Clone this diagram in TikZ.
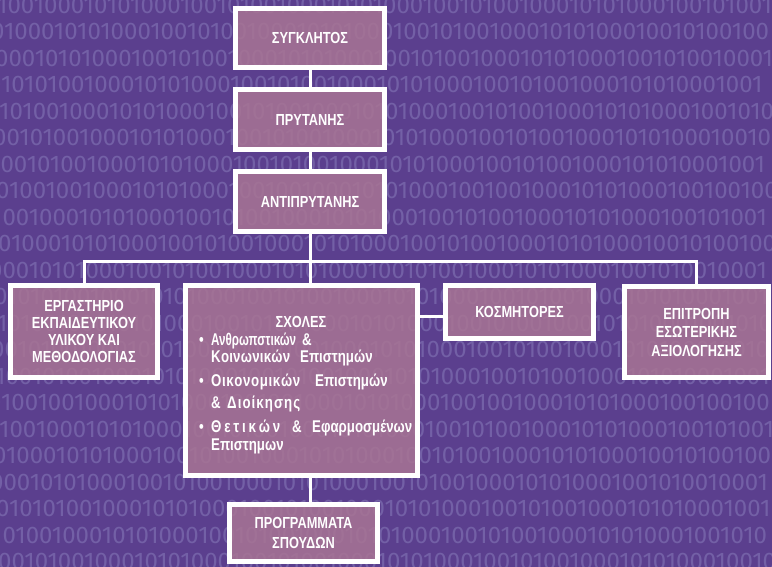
\documentclass[tikz,border=0pt]{standalone}
\usepackage{fontspec}
\usepackage{graphicx}
\setmainfont{Liberation Sans}
\newfontfamily\bitfont{Fira Sans}
\newfontfamily\boxfont{Liberation Sans}[FakeStretch=0.8]
\newfontfamily\listfont{Liberation Sans}[FakeStretch=0.78]
\usetikzlibrary{calc}
\definecolor{bgpurple}{HTML}{5B3F8E}
\definecolor{bitcol}{HTML}{7360A6}
\definecolor{boxfill}{HTML}{A97594}
% spread the letters of a word over a given width
\def\sprinkle#1#2\relax{#1\sprB#2\relax}
\def\sprB#1{\ifx#1\relax\else\hfil#1\expandafter\sprB\fi}
\newcommand\fw[2]{\makebox[#1pt][s]{\sprinkle#2\relax}}
\begin{document}
\begin{tikzpicture}[x=1pt,y=-1pt,
  box/.style={draw=white, line width=5pt, fill=boxfill, fill opacity=0.84,
    text opacity=1, text=white, font=\boxfont\bfseries\fontsize{16}{18}\selectfont,
    align=center, inner sep=0pt},
  boxtext/.style={text=white, font=\listfont\bfseries\fontsize{17}{18}\selectfont, inner sep=0pt},
  bits/.style={anchor=west, text=bitcol, font=\bitfont\fontsize{24}{24}\selectfont, inner sep=0pt},
  link/.style={draw=white, line width=3pt}]
\fill[bgpurple] (0,0) rectangle (772,567);
\useasboundingbox (0,0) rectangle (772,567);
\begin{scope}
\clip (0,0) rectangle (772,567);
\foreach \s/\dx [count=\i from 0] in {
 1001000101010001001010010001010100010010100100010101000100101001/-3,
 0100010101000100101001000101010001001010010001010100010010100100/-9,
 0001010100010010100100010101000100101001000101010001001010010001/-5,
 0101010010001010100010010100100010101000100101001000101010001001/-12,
 1010010001010100010010100100010101000100101001000101010001001010/-1,
 0010100100010101000100101001000101010001001010010001010100010010/-7,
 1001010010001010100010010100100010101000100101001000101010001001/-10,
 0100100100010101000100100100010101000100100100010101000100100100/-4,
 1001000101010001001010010001010100010010100100010101000100101001/-8,
 0100010101000100101001000101010001001010010001010100010010100100/-2,
 0001010100010010100100010101000100101001000101010001001010010001/-11,
 0101010010001010100010010100100010101000100101001000101010001001/-6,
 1010010001010100010010100100010101000100101001000101010001001010/-3,
 0010100100010101000100101001000101010001001010010001010100010010/-9,
 1001010010001010100010010100100010101000100101001000101010001001/-5,
 0100100100010101000100100100010101000100100100010101000100100100/-12,
 1001000101010001001010010001010100010010100100010101000100101001/-1,
 0100010101000100101001000101010001001010010001010100010010100100/-7,
 0001010100010010100100010101000100101001000101010001001010010001/-10,
 0101010010001010100010010100100010101000100101001000101010001001/-4,
 1010010001010100010010100100010101000100101001000101010001001010/-8,
 0010100100010101000100101001000101010001001010010001010100010010/-2}
 { \node[bits] (bits\i) at (\dx, {5+26.5*\i}) {\s}; }
\end{scope}

% boxes
\node[box, minimum width=149pt, minimum height=59pt] (syg) at (310,38) {ΣΥΓΚΛΗΤΟΣ};
\node[box, minimum width=149pt, minimum height=60pt] (pry) at (310,119.5) {ΠΡΥΤΑΝΗΣ};
\node[box, minimum width=149pt, minimum height=60pt] (anti) at (310,201.5) {ΑΝΤΙΠΡΥΤΑΝΗΣ};
\node[box, minimum width=147pt, minimum height=92pt, font=\boxfont\bfseries\fontsize{16}{17.3}\selectfont] (erg) at (84,331.5)
  {ΕΡΓΑΣΤΗΡΙΟ\\ΕΚΠΑΙΔΕΥΤΙΚΟΥ\\ΥΛΙΚΟΥ ΚΑΙ\\ΜΕΘΟΔΟΛΟΓΙΑΣ};
\node[box, minimum width=232pt, minimum height=190pt] (sch) at (301.5,380.5) {};
\node[box, minimum width=148pt, minimum height=53pt] (kos) at (519.5,312) {ΚΟΣΜΗΤΟΡΕΣ};
\node[box, minimum width=144pt, minimum height=91pt, font=\boxfont\bfseries\fontsize{16}{18.5}\selectfont] (epi) at (696.5,332)
  {ΕΠΙΤΡΟΠΗ\\ΕΣΩΤΕΡΙΚΗΣ\\ΑΞΙΟΛΟΓΗΣΗΣ};
\node[box, minimum width=148pt, minimum height=57pt, font=\boxfont\bfseries\fontsize{16}{19.5}\selectfont] (prog) at (303.5,533)
  {ΠΡΟΓΡΑΜΜΑΤΑ\\ΣΠΟΥΔΩΝ};

% connectors
\coordinate (bus) at (310,262);
\draw[link] (syg) -- (pry);
\draw[link] (pry) -- (anti);
\draw[link] (anti.south) -- (anti.south |- sch.north);
\draw[link] (erg.north) |- (bus) -| (epi.north);
\coordinate (kj) at ($(kos.west)+(0,4)$);
\draw[link] (kj) -- (kj -| sch.east);
\draw[link] (anti.south |- sch.south) -- (anti.south |- prog.north);

% school text
\node[boxtext, font=\boxfont\bfseries\fontsize{16}{18}\selectfont, anchor=base] (t0) at (301,327) {ΣΧΟΛΕΣ};
\node[boxtext, anchor=base west] (t1) at (199,345)
  {\makebox[12pt][l]{\textbullet}\resizebox{85pt}{\height}{Ανθρωπστικών}\hspace{6pt}\&};
\node[boxtext, anchor=base west] (t2) at (211,362)
  {\fw{79}{Κοινωνικών}\hspace{10pt}\fw{65}{Επιστημών}};
\node[boxtext, anchor=base west] (t3) at (199,386)
  {\makebox[12pt][l]{\textbullet}\fw{89}{Οικονομικών}\hspace{15pt}\fw{68}{Επιστημών}};
\node[boxtext, anchor=base west] (t4) at (211,408)
  {\makebox[16pt][l]{\&}\fw{73}{Διοίκησης}};
\node[boxtext, anchor=base west] (t5) at (199,432)
  {\makebox[12pt][l]{\textbullet}\fw{69}{Θετικών}\hspace{12pt}\makebox[20pt][l]{\&}\fw{91}{Εφαρμοσμένων}};
\node[boxtext, anchor=base west] (t6) at (211,450)
  {\fw{71}{Επιστημων}};
\end{tikzpicture}
\end{document}
